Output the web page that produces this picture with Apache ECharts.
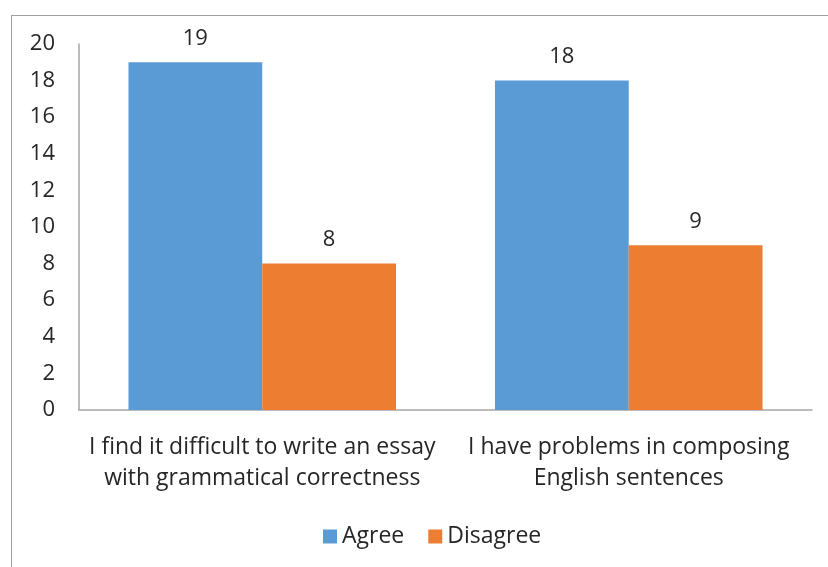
<!DOCTYPE html>
<html>
<head>
<meta charset="utf-8">
<script src="https://cdn.jsdelivr.net/npm/echarts@6/dist/echarts.min.js"></script>
<style>
  html, body { margin: 0; padding: 0; background: #fff; }
  #frame { position: absolute; left: 11px; top: 15px; width: 830px; height: 570px; border: 1.5px solid #a0a0a0; box-sizing: border-box; }
  #chart { position: absolute; left: 0; top: 0; width: 828px; height: 567px; }
</style>
</head>
<body>
<div id="frame"></div>
<div id="chart"></div>
<script>
const categories = [
  'I find it difficult to write an essay\nwith grammatical correctness',
  'I have problems in composing\nEnglish sentences'
];
const agree = [19, 18];
const disagree = [8, 9];
const yTicks = [0, 20, 2]; // min, max, step

const font = '"Open Sans", "Liberation Sans", sans-serif';
const textColor = '#262626';
const fs = 23;

const chart = echarts.init(document.getElementById('chart'));

const barLabel = {
  show: true,
  position: 'top',
  distance: 13,
  fontFamily: font,
  fontSize: 22,
  color: textColor
};

chart.setOption({
  animation: false,
  textStyle: { fontFamily: font },
  grid: { left: 79, right: 16, top: 44, bottom: 157 },
  legend: {
    bottom: 14,
    left: 318,
    itemWidth: 14,
    itemHeight: 14,
    itemGap: 24,
    icon: 'rect',
    textStyle: { fontFamily: font, fontSize: fs, color: textColor }
  },
  xAxis: {
    type: 'category',
    data: categories,
    axisLine: { lineStyle: { color: '#a6a6a6', width: 1.5 } },
    axisTick: { show: false },
    axisLabel: {
      fontFamily: font,
      fontSize: fs,
      color: textColor,
      lineHeight: 31,
      margin: 22,
      interval: 0
    }
  },
  yAxis: {
    type: 'value',
    min: yTicks[0],
    max: yTicks[1],
    interval: yTicks[2],
    splitLine: { show: false },
    axisLine: { show: true, lineStyle: { color: '#a6a6a6', width: 1.5 } },
    axisTick: { show: false },
    axisLabel: { fontFamily: font, fontSize: 22, color: textColor, margin: 24 }
  },
  series: [
    {
      name: 'Agree',
      type: 'bar',
      data: agree,
      barGap: '0%',
      barCategoryGap: '27%',
      itemStyle: { color: '#5B9BD5' },
      label: barLabel
    },
    {
      name: 'Disagree',
      type: 'bar',
      data: disagree,
      itemStyle: { color: '#ED7D31' },
      label: barLabel
    }
  ]
});
</script>
</body>
</html>
